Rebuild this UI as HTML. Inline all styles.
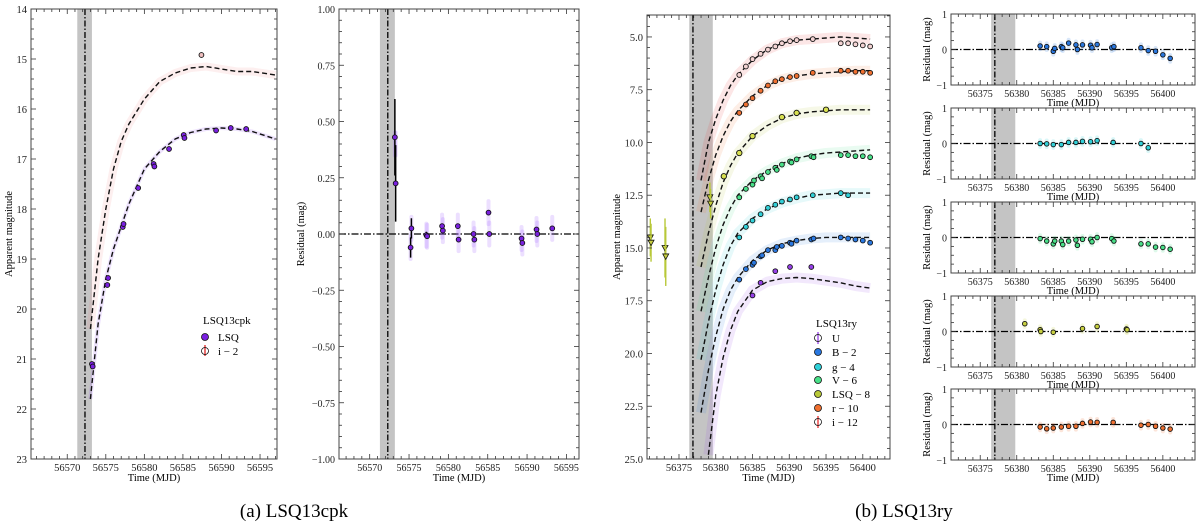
<!DOCTYPE html>
<html><head><meta charset="utf-8">
<style>
html,body{margin:0;padding:0;background:#fff;}
svg{display:block;font-family:"Liberation Serif",serif;}
</style></head>
<body>
<svg id="fig" width="1200" height="529" viewBox="0 0 1200 529" xmlns="http://www.w3.org/2000/svg">
<text x="294" y="517" font-size="19" text-anchor="middle">(a) LSQ13cpk</text>
<text x="904" y="517" font-size="19" text-anchor="middle">(b) LSQ13ry</text>
</svg>
<script>
// ---------- Data: LSQ13cpk ----------
const cpkLsqT = [56573.2,56573.3,56575.2,56575.3,56577.2,56577.3,56579.2,56581.2,56581.3,56583.2,56585.1,56585.2,56589.3,56591.2,56593.2];
const cpkLsqM = [21.1,21.15,19.52,19.38,18.36,18.3,17.58,17.1,17.15,16.8,16.52,16.58,16.43,16.38,16.4];
const cpkLsqModelT = [56573,56574,56575,56576,56577,56578,56580,56582,56584,56586,56588,56590,56592,56594,56597];
const cpkLsqModelM = [21.8,20.3,19.4,18.8,18.35,17.9,17.2,16.85,16.6,16.47,16.4,16.38,16.4,16.45,16.6];
const cpkIModelT = [56573,56574,56575,56576,56577,56578,56580,56582,56584,56586,56588,56590,56592,56594,56597];
const cpkIModelM = [20.4,19.0,18.0,17.2,16.65,16.3,15.8,15.45,15.28,15.18,15.15,15.2,15.25,15.25,15.32];
const cpkIT = [56587.4];
const cpkIM = [14.92];
const cpkResT = [56573.2,56573.3,56575.2,56575.3,56577.2,56577.3,56579.2,56579.3,56581.2,56581.3,56583.2,56583.3,56585.1,56585.2,56589.3,56589.4,56591.2,56591.3,56593.2];
const cpkResV = [0.43,0.225,-0.06,0.025,-0.005,-0.01,0.035,0.015,0.035,-0.025,0,-0.025,0.095,0,-0.02,-0.04,0.02,0,0.025];
const cpkResErr = [0.17,0.17,0.045,0.045,0.015,0.01,0.01,0.01,0.01,0.01,0.01,0.01,0.01,0.01,0.01,0.01,0.01,0.01,0.01];

// ---------- Data: LSQ13ry ----------
const ryBands = ['U','B − 2','g − 4','V − 6','LSQ − 8','r − 10','i − 12'];
const ryColors = ['#9640e8','#2a78e0','#30d0d8','#48e088','#b8c838','#f07030','#e83030'];
const ryModelT = [56378,56379,56380,56381,56382,56383,56385,56387,56389,56391,56393,56395,56397,56399,56401];
const ryModelU = [null,24.8,22.0,20.2,18.9,18.0,17.0,16.6,16.45,16.4,16.45,16.55,16.65,16.8,16.9];
const ryModelB = [22.8,20.8,19.2,17.9,17.0,16.4,15.6,15.1,14.8,14.65,14.55,14.5,14.5,14.5,14.5];
const ryModelG = [20.3,18.5,17.0,15.8,14.9,14.3,13.6,13.15,12.85,12.65,12.5,12.45,12.4,12.4,12.4];
const ryModelV = [18.0,16.4,15.0,13.9,13.1,12.5,11.8,11.35,11.0,10.75,10.6,10.5,10.45,10.4,10.35];
const ryModelL = [15.9,14.3,13.0,11.9,11.1,10.5,9.7,9.2,8.85,8.65,8.55,8.5,8.45,8.45,8.45];
const ryModelR = [13.3,11.8,10.6,9.7,9.0,8.5,7.8,7.3,7.0,6.85,6.75,6.7,6.65,6.6,6.6];
const ryModelI = [11.8,10.0,8.9,8.0,7.3,6.8,6.1,5.6,5.3,5.15,5.1,5.05,5.0,5.05,5.1];
const ryUT = [56385,56386.1,56388.1,56390.1,56393];
const ryUM = [17.25,16.65,16.1,15.9,15.9];
const ryBT = [56383.2,56384.1,56385,56385.2,56386.1,56386.3,56387.1,56388.1,56388.3,56389,56390.1,56390.3,56391,56393,56393.3,56397,56398,56399,56400,56401];
const ryBM = [16.5,16.0,15.8,15.7,15.4,15.35,15.1,15.1,14.95,14.9,14.75,14.8,14.65,14.6,14.55,14.5,14.55,14.6,14.65,14.75];
const ryGT = [56383.2,56384.1,56385,56386.1,56387.1,56388.1,56389,56390.1,56391,56393.2,56397,56398];
const ryGM = [14.5,14.0,13.7,13.4,13.1,12.95,12.8,12.7,12.6,12.5,12.4,12.5];
const ryVT = [56383.2,56384.1,56385,56385.2,56386.1,56386.3,56387.1,56388.1,56388.3,56389,56390.1,56390.3,56391,56393,56393.3,56397,56398,56399,56400,56401];
const ryVM = [12.6,12.2,12.0,11.8,11.6,11.7,11.4,11.2,11.3,11.05,10.9,10.95,10.8,10.65,10.7,10.6,10.6,10.65,10.65,10.7];
const ryLT = [56381.1,56383.2,56385,56389,56391,56395];
const ryLM = [11.6,10.5,9.7,8.8,8.6,8.45];
const ryLimT = [56371.1,56371.2,56373.1,56373.2,56379.2,56379.3];
const ryLimM = [14.5,14.75,15.0,15.4,12.6,12.9];
const ryLimErr = [0.9,0.9,1.4,1.4,0.7,0.7];
const ryRT = [56383.2,56384.1,56385,56386.1,56387.1,56388.1,56389,56390.1,56391,56393.2,56397,56398,56399,56400,56401];
const ryRM = [8.6,8.2,7.9,7.55,7.3,7.1,7.0,6.9,6.85,6.7,6.6,6.6,6.65,6.65,6.7];
const ryIT = [56383.2,56384.1,56385,56386.1,56387.1,56388.1,56389,56390.1,56391,56393.2,56397,56398,56399,56400,56401];
const ryIM = [6.8,6.4,6.05,5.8,5.6,5.45,5.3,5.2,5.15,5.1,5.3,5.3,5.35,5.4,5.45];
// residuals
const resBT = [56383.2,56384.1,56385,56385.2,56386.1,56386.3,56387.1,56388.1,56388.3,56389,56390.1,56390.3,56391,56393,56393.3,56397,56398,56399,56400,56401];
const resBV = [0.1,0.08,-0.05,0.03,0.08,0.05,0.18,0.13,0.0,0.13,0.12,0.05,0.14,0.05,0.08,0.05,-0.03,-0.05,-0.15,-0.25];
const resGT = [56383.2,56384.1,56385,56386.1,56387.1,56388.1,56389,56390.1,56391,56393.2,56397,56398];
const resGV = [0.0,-0.01,-0.03,-0.03,0.03,0.03,0.06,0.05,0.08,0.03,0.0,-0.12];
const resVT = [56383.2,56384.1,56385,56385.2,56386.1,56386.3,56387.1,56388.1,56388.3,56389,56390.1,56390.3,56391,56393,56393.3,56397,56398,56399,56400,56401];
const resVV = [-0.03,-0.1,-0.18,-0.1,-0.1,-0.2,-0.1,-0.07,-0.22,-0.05,-0.05,-0.12,0.0,-0.03,-0.1,-0.18,-0.18,-0.27,-0.28,-0.33];
const resLT = [56381.1,56383.2,56383.3,56385,56389,56391,56395,56395.1];
const resLV = [0.22,0.05,0.0,-0.02,0.08,0.14,0.07,0.05];
const resRT = [56383.2,56384.1,56385,56386.1,56387.1,56388.1,56389,56390.1,56391,56393.2,56397,56398,56399,56400,56401];
const resRV = [-0.07,-0.12,-0.1,-0.07,-0.05,-0.05,0.03,0.07,0.06,0.06,-0.02,0.0,-0.05,-0.1,-0.13];

const NS = 'http://www.w3.org/2000/svg';
const svg = document.getElementById('fig');
function el(tag, attrs, parent){
  const e = document.createElementNS(NS, tag);
  for (const k in attrs) e.setAttribute(k, attrs[k]);
  (parent||svg).appendChild(e);
  return e;
}
function fmt(v, dec){ const s = v.toFixed(dec); return s.replace('-', '−'); }

function makePanel(p){
  const g = el('g', {});
  
  
  const sx = v => p.x0 + (v - p.xmin) / (p.xmax - p.xmin) * (p.x1 - p.x0);
  const sy = p.invert ? (v => p.y0 + (v - p.ymin) / (p.ymax - p.ymin) * (p.y1 - p.y0))
                      : (v => p.y1 - (v - p.ymin) / (p.ymax - p.ymin) * (p.y1 - p.y0));
  const clipId = 'clip-' + p.name;
  const cp = el('clipPath', {id: clipId}, g);
  el('rect', {x:p.x0, y:p.y0, width:p.x1-p.x0, height:p.y1-p.y0}, cp);
  const plot = el('g', {'clip-path':'url(#'+clipId+')'}, g);
  
  
  const band = el('rect', {x:sx(p.bandA), y:p.y0, width:sx(p.bandB)-sx(p.bandA), height:p.y1-p.y0, fill:'#c4c4c4'}, plot);
  
  
  const vl = el('line', {x1:sx(p.expl), x2:sx(p.expl), y1:p.y0, y2:p.y1, stroke:'#000', 'stroke-width':1.3, 'stroke-dasharray':'6,2,1.5,2'}, plot);
  
  
  const tg = el('g', {stroke:'#333', 'stroke-width':0.8}, g);
  const eps = 1e-6;
  const lo = Math.ceil(p.xmin / p.xminor - eps) * p.xminor;
  for (let v = lo; v <= p.xmax + eps; v += p.xminor){
    const major = Math.abs(v/p.xmajor - Math.round(v/p.xmajor)) < 1e-6;
    const L = major ? 5 : 3, X = sx(v);
    el('line', {x1:X,x2:X,y1:p.y1,y2:p.y1-L}, tg);
    el('line', {x1:X,x2:X,y1:p.y0,y2:p.y0+L}, tg);
    if (major){
      const t = el('text', {x:X, y:p.y1+12, 'font-size':p.fs, 'text-anchor':'middle', fill:'#222', stroke:'none'}, g);
      t.textContent = Math.round(v);
      
      
    }
  }
  const ylo = Math.ceil(p.ymin / p.yminor - eps) * p.yminor;
  for (let v = ylo; v <= p.ymax + eps; v += p.yminor){
    const major = Math.abs(v/p.ymajor - Math.round(v/p.ymajor)) < 1e-6;
    const L = major ? 5 : 3, Y = sy(v);
    el('line', {x1:p.x0,x2:p.x0+L,y1:Y,y2:Y}, tg);
    el('line', {x1:p.x1,x2:p.x1-L,y1:Y,y2:Y}, tg);
    if (major){
      const t = el('text', {x:p.x0-4, y:Y+4, 'font-size':p.fs, 'text-anchor':'end', fill:'#222', stroke:'none'}, g);
      t.textContent = fmt(Math.abs(v)<1e-9?0:v, p.ydec);
      
      
    }
  }
  const fr = el('rect', {x:p.x0, y:p.y0, width:p.x1-p.x0, height:p.y1-p.y0, fill:'none', stroke:'#444', 'stroke-width':1}, g);
  
  
  const xl = el('text', {x:(p.x0+p.x1)/2, y:p.y1+p.xlOff, 'font-size':p.lfs, 'text-anchor':'middle'}, g);
  xl.textContent = 'Time (MJD)';
  
  
  const yx = p.ylx, yy = (p.y0+p.y1)/2;
  const yl = el('text', {x:yx, y:yy, 'font-size':p.lfs, 'text-anchor':'middle', transform:'rotate(-90 '+yx+' '+yy+')'}, g);
  yl.textContent = p.ylabel;
  
  
  return {sx, sy, plot, g};
}

function modelLine(P, T, M, color, name, bandW, op){
  let d = '';
  T.forEach((t,i) => { if (M[i]==null) return; d += (d?'L':'M') + P.sx(t).toFixed(1) + ',' + P.sy(M[i]).toFixed(1); });
  const b = el('path', {d, fill:'none', stroke:color, 'stroke-width':bandW, 'stroke-opacity':op, 'stroke-linejoin':'round'}, P.plot);
  
  
  const l = el('path', {d, fill:'none', stroke:'#111', 'stroke-width':1.4, 'stroke-dasharray':'5,3'}, P.plot);
  
  
}
function points(P, T, M, fill, name, r){
  T.forEach((t,i) => {
    const c = el('circle', {cx:P.sx(t), cy:P.sy(M[i]), r:r||2.4, fill, stroke:'#111', 'stroke-width':0.9}, P.plot);
    
    
  });
}
function smear(P, T, V, color, h, op){
  T.forEach((t,i) => {
    const r = el('rect', {x:P.sx(t)-2, y:P.sy(V[i]+h), width:4, height:Math.abs(P.sy(V[i]-h)-P.sy(V[i]+h)), fill:color, opacity:op, rx:2}, P.plot);
    
    
  });
}
function zeroLine(P, x0, x1){
  const z = el('line', {x1:x0, x2:x1, y1:P.sy(0), y2:P.sy(0), stroke:'#000', 'stroke-width':1.2, 'stroke-dasharray':'7,2,1.5,2'}, P.plot);
  
  
}

// ---------- Panel 1 ----------
const P1 = makePanel({name:'cpk-light-curve', x0:31, x1:277, y0:9, y1:459, xmin:56565.3, xmax:56597.2, ymin:14, ymax:23, invert:true,
  xmajor:5, xminor:1, ymajor:1, yminor:0.2, ydec:0, fs:10.5, lfs:10.5, xlOff:22, ylx:12, ylabel:'Apparent magnitude',
  bandA:56571.3, bandB:56573.2, expl:56572.3});
modelLine(P1, cpkIModelT, cpkIModelM, '#f06060', 'cpk-i', 8, 0.1);
modelLine(P1, cpkLsqModelT, cpkLsqModelM, '#8a40f0', 'cpk-lsq', 4, 0.15);
points(P1, cpkLsqT, cpkLsqM, '#7a20e0', 'cpk-lsq');
points(P1, cpkIT, cpkIM, '#f0c0c0', 'cpk-i');
(function(){
  const lg = el('g', {'font-size':11});
  
  
  el('text', {x:203, y:324}, lg).textContent = 'LSQ13cpk';
  const c1 = el('circle', {cx:205, cy:337, r:3.5, fill:'#7a20e0', stroke:'#111', 'stroke-width':0.8}, lg);
  
  
  el('text', {x:218, y:341}, lg).textContent = 'LSQ';
  el('line', {x1:205,x2:205,y1:345,y2:356, stroke:'#e02020', 'stroke-width':1.3}, lg);
  const c2 = el('circle', {cx:205, cy:351, r:3.5, fill:'none', stroke:'#111', 'stroke-width':0.8}, lg);
  
  
  el('text', {x:218, y:355}, lg).textContent = 'i − 2';
})();

// ---------- Panel 2 ----------
const P2 = makePanel({name:'cpk-residuals', x0:339, x1:579, y0:9, y1:459, xmin:56566.1, xmax:56596.6, ymin:-1, ymax:1, invert:false,
  xmajor:5, xminor:1, ymajor:0.25, yminor:0.05, ydec:2, fs:10, lfs:10.5, xlOff:22, ylx:304, ylabel:'Residual (mag)',
  bandA:56571.3, bandB:56573.2, expl:56572.3});
zeroLine(P2, 339, 579);
smear(P2, cpkResT, cpkResV.map((v,i)=> i<2 ? 0.4 : v), '#a060ff', 0.06, 0.2);
cpkResT.forEach((t,i) => {
  const e = el('line', {x1:P2.sx(t), x2:P2.sx(t), y1:P2.sy(cpkResV[i]-cpkResErr[i]), y2:P2.sy(cpkResV[i]+cpkResErr[i]), stroke:'#000', 'stroke-width':1.5}, P2.plot);
  
  
});
points(P2, cpkResT, cpkResV, '#7a20e0', 'cpk-residual');

// ---------- Panel 3 ----------
const P3 = makePanel({name:'ry-light-curve', x0:647, x1:890, y0:15, y1:459, xmin:56370.65, xmax:56403.7, ymin:3.96, ymax:25, invert:true,
  xmajor:5, xminor:1, ymajor:2.5, yminor:0.5, ydec:1, fs:10.5, lfs:10.5, xlOff:22, ylx:620, ylabel:'Apparent magnitude',
  bandA:56376.4, bandB:56379.6, expl:56376.9});
const ryModels = [ryModelU, ryModelB, ryModelG, ryModelV, ryModelL, ryModelR, ryModelI];
ryModels.forEach((M,k) => modelLine(P3, ryModelT, M, ryColors[k], 'ry-band-'+k, 10, 0.12));
ryLimT.forEach((t,i) => {
  const X = P3.sx(t), Y = P3.sy(ryLimM[i]);
  const e = el('line', {x1:X,x2:X,y1:P3.sy(ryLimM[i]-ryLimErr[i]),y2:P3.sy(ryLimM[i]+ryLimErr[i]), stroke:'#b8c838', 'stroke-width':1.4}, P3.plot);
  
  
  const tr = el('polygon', {points:(X-3)+','+(Y-2.5)+' '+(X+3)+','+(Y-2.5)+' '+X+','+(Y+3), fill:'#c8d040', stroke:'#111', 'stroke-width':0.8}, P3.plot);
  
  
});
points(P3, ryUT, ryUM, ryColors[0], 'ry-u');
points(P3, ryBT, ryBM, ryColors[1], 'ry-b');
points(P3, ryGT, ryGM, ryColors[2], 'ry-g');
points(P3, ryVT, ryVM, ryColors[3], 'ry-v');
points(P3, ryLT, ryLM, '#d8e050', 'ry-lsq', 2.7);
points(P3, ryRT, ryRM, ryColors[5], 'ry-r');
points(P3, ryIT, ryIM, '#f4d4d4', 'ry-i');
(function(){
  const lg = el('g', {'font-size':11});
  
  
  el('text', {x:816, y:327}, lg).textContent = 'LSQ13ry';
  const ys = [338,352,367,380,394,408,422];
  ryBands.forEach((b,k) => {
    const open = (k===0 || k===6);
    if (open) el('line', {x1:818,x2:818,y1:ys[k]-6,y2:ys[k]+6, stroke:ryColors[k], 'stroke-width':1.3}, lg);
    const c = el('circle', {cx:818, cy:ys[k], r:3.5, fill:open?'none':ryColors[k], stroke:'#111', 'stroke-width':0.8}, lg);
    
    
    el('text', {x:832, y:ys[k]+4}, lg).textContent = b;
  });
})();

// ---------- Panel 4 (residual stack) ----------
const resRows = [[14,85],[108,179],[202,273],[296,367],[389,460]];
const resT = [resBT, resGT, resVT, resLT, resRT];
const resV = [resBV, resGV, resVV, resLV, resRV];
const resCol = [ryColors[1], ryColors[2], ryColors[3], '#c8d040', ryColors[5]];
const resNames = ['b','g','v','lsq','r'];
resRows.forEach((r,k) => {
  const P = makePanel({name:'ry-residuals-'+resNames[k], x0:951, x1:1195, y0:r[0], y1:r[1], xmin:56371.0, xmax:56404.4, ymin:-1, ymax:1, invert:false,
    xmajor:5, xminor:1, ymajor:1, yminor:0.25, ydec:0, fs:10, lfs:10.5, xlOff:21, ylx:930, ylabel:'Residual (mag)',
    bandA:56376.5, bandB:56379.8, expl:56377.0});
  zeroLine(P, 951, 1195);
  smear(P, resT[k], resV[k], resCol[k], 0.15, 0.18);
  points(P, resT[k], resV[k], resCol[k], 'ry-residual-'+resNames[k], 2.3);
});
</script>
</body></html>
